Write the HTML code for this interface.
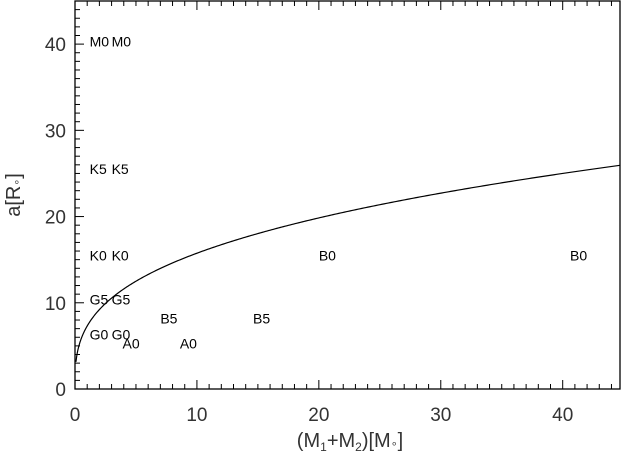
<!DOCTYPE html>
<html><head><meta charset="utf-8"><style>
html,body{margin:0;padding:0;background:#fff;}
svg{display:block;font-family:"Liberation Sans",sans-serif;}
</style></head><body>
<svg width="625" height="457" viewBox="0 0 625 457">
<g id="axes"></g><g id="marks"></g>
</svg>
<script>
const xTicks=[0,10,20,30,40];
const yTicks=[0,10,20,30,40];
const labelNames=["M0","M0","K5","K5","K0","K0","G5","G5","G0","G0","A0","A0","B5","B5","B0","B0"];
const labelX=[1.2,3.0,1.2,3.0,1.2,3.0,1.2,3.0,1.2,3.0,3.9,8.6,7.0,14.6,20.0,40.6];
const labelY=[40,25,15,10].flatMap(v=>[v,v]).concat([6.3,6.3,5.3,5.3,8.2,8.2,15.5,15.5]);
labelY[0]=40.3;labelY[1]=40.3;labelY[2]=25.5;labelY[3]=25.5;labelY[4]=15.5;labelY[5]=15.5;labelY[6]=10.4;labelY[7]=10.4;
const curveCoef=[7.31];
const X0=75,X1=620,Y0=389,Y1=1,XMAX=44.7,YMAX=45;
const sx=v=>X0+v/XMAX*(X1-X0);
const sy=v=>Y0-v/YMAX*(Y0-Y1);
const NS="http://www.w3.org/2000/svg";
const axes=document.getElementById('axes'),marks=document.getElementById('marks');
function mk(tag,attrs,parent){const e=document.createElementNS(NS,tag);for(const k in attrs)e.setAttribute(k,attrs[k]);parent.appendChild(e);return e;}
const frame=mk('rect',{x:X0,y:Y1,width:X1-X0,height:Y0-Y1,fill:'none',stroke:'#000','stroke-width':1.3},axes);


for(let v=0;v<=44;v++){const maj=v%10===0;const L=maj?9:5;
 mk('line',{x1:sx(v),x2:sx(v),y1:Y0,y2:Y0-L,stroke:'#000','stroke-width':1},axes);
 mk('line',{x1:sx(v),x2:sx(v),y1:Y1,y2:Y1+L,stroke:'#000','stroke-width':1},axes);}
for(let v=0;v<=45;v++){const maj=v%10===0;const L=maj?9:5;
 mk('line',{x1:X0,x2:X0+L,y1:sy(v),y2:sy(v),stroke:'#000','stroke-width':1},axes);}
xTicks.forEach(v=>{const t=mk('text',{x:sx(v),y:421,'text-anchor':'middle','font-size':19,fill:'#333'},axes);t.textContent=v;
 
 });
yTicks.forEach(v=>{const t=mk('text',{x:66,y:sy(v)+7,'text-anchor':'end','font-size':19,fill:'#333'},axes);t.textContent=v;
 
 });
const xt=mk('text',{x:350,y:447,'text-anchor':'middle','font-size':20,fill:'#333'},axes);
xt.innerHTML='(M<tspan font-size="12" dy="4">1</tspan><tspan dy="-4">+M</tspan><tspan font-size="12" dy="4">2</tspan><tspan dy="-4">)[M</tspan><tspan font-size="11">∘</tspan>]';


const yt=mk('text',{x:0,y:0,'text-anchor':'middle','font-size':20,fill:'#333',transform:'translate(20,195) rotate(-90)'},axes);
yt.innerHTML='a[R<tspan font-size="11">∘</tspan>]';


let d='';for(let i=0;i<=400;i++){const m=0.08+(XMAX-0.08)*Math.pow(i/400,2);const a=curveCoef[0]*Math.cbrt(m);d+=(i?'L':'M')+sx(m).toFixed(2)+','+sy(a).toFixed(2);}
const c=mk('path',{d:d,fill:'none',stroke:'#000','stroke-width':1.2},marks);


labelNames.forEach((n,i)=>{const t=mk('text',{x:sx(labelX[i]),y:sy(labelY[i])+5,'font-size':14,fill:'#000'},marks);t.textContent=n;
 
 });
</script>
</body></html>
